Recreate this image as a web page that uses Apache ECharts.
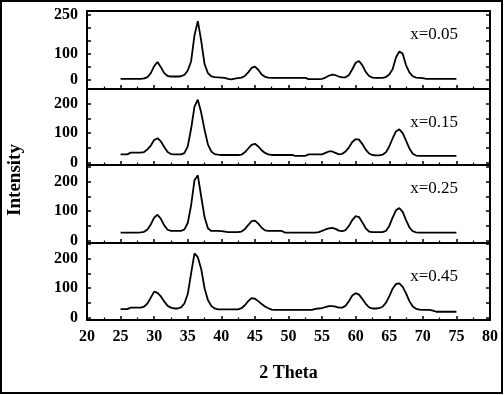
<!DOCTYPE html>
<html><head><meta charset="utf-8">
<script src="https://cdn.jsdelivr.net/npm/echarts@6/dist/echarts.min.js"></script>
<style>html,body{margin:0;padding:0;background:#fff;}#c{width:504px;height:395px;}</style>
</head><body><div id="c"></div>
<script>
// 2-theta positions (degrees)
const theta = [25,25.5,26,26.5,27,27.5,28,28.5,29,29.5,
30,30.5,31,31.5,32,32.5,33,33.5,34,34.5,
35,35.5,36,36.5,37,37.5,38,38.5,39,39.5,
40,40.5,41,41.5,42,42.5,43,43.5,44,44.5,
45,45.5,46,46.5,47,47.5,48,48.5,49,49.5,
50,50.5,51,51.5,52,52.5,53,53.5,54,54.5,
55,55.5,56,56.5,57,57.5,58,58.5,59,59.5,
60,60.5,61,61.5,62,62.5,63,63.5,64,64.5,
65,65.5,66,66.5,67,67.5,68,68.5,69,69.5,
70,70.5,71,71.5,72,72.5,73,73.5,74,74.5,75];
// Intensity, x=0.05
const i005 = [3,3,3,3,3,3,3,5,10,25,
52,68,48,25,14,12,12,12,13,18,
35,70,170,225,150,60,25,13,10,9,
8,7,3,1,4,6,8,14,28,45,
50,38,20,11,8,7,7,7,7,7,
7,7,7,7,7,7,2,2,2,2,
3,8,15,19,17,12,9,9,18,40,
65,72,55,30,14,8,7,7,7,10,
20,40,85,108,100,55,28,13,8,7,
6,3,3,3,3,3,3,3,3,3,3];
// Intensity, x=0.15
const i015 = [28,28,28,34,34,34,34,36,45,58,
77,83,72,53,36,29,28,28,28,32,
55,115,190,214,170,112,62,38,29,27,
26,26,26,26,26,26,27,35,48,60,
64,55,42,33,28,26,26,26,26,26,
26,26,23,23,23,23,28,28,28,28,
28,33,38,38,33,28,30,38,52,70,
80,78,63,44,31,26,25,25,27,35,
55,82,106,113,100,75,48,30,24,23,
23,23,23,23,23,23,23,23,23,23,23];
// Intensity, x=0.25
const i025 = [27,27,27,27,27,27,28,30,38,55,
78,88,74,52,37,33,33,33,33,38,
60,120,205,222,150,80,42,33,33,33,
32,31,29,29,29,29,31,39,53,66,
68,58,44,35,33,33,33,33,33,27,
27,27,27,27,27,27,27,27,27,29,
33,38,42,43,40,34,32,36,50,70,
83,80,62,42,31,29,29,29,29,33,
50,78,103,111,98,70,45,32,28,27,
27,27,27,27,27,27,27,27,27,27,27];
// Intensity, x=0.45
const i045 = [29,29,29,34,34,34,34,37,48,68,
88,84,72,55,40,34,31,31,35,48,
80,150,218,205,165,100,60,40,31,28,
28,28,28,28,28,28,32,42,56,66,
64,56,46,38,32,27,26,26,26,26,
26,26,26,26,26,26,26,26,30,31,
32,36,39,39,37,34,34,40,56,75,
83,78,63,47,35,31,31,32,37,50,
72,98,114,116,104,82,56,38,30,27,
26,26,26,24,20,20,20,20,20,20,20];

const seriesData = [i005, i015, i025, i045];
const panelLabels = ['x=0.05', 'x=0.15', 'x=0.25', 'x=0.45'];
const yLabelValues = [[0,100,250],[0,100,200],[0,100,200],[0,100,200]];
const yTickValues = [[0,50,100,150,200,250],[0,50,100,150,200,250],[0,50,100,150,200,250],[0,50,100,150,200,250]];
const yMin = [-36,-8,-8,-8];
const yMax = [264,250,257,253];
const xAxisName = '2 Theta';
const yAxisName = 'Intensity';

const gridTops = [11,89,165,243];
const gridHeights = [78,76,78,77];
const labelTops = [21,109,175,263];
const FONT = '"Liberation Serif", "Times New Roman", serif';

const grids = [], xAxes = [], yAxes = [], series = [], titles = [];
for (let i = 0; i < 4; i++) {
  grids.push({left: 87, right: 14, top: gridTops[i], height: gridHeights[i]});
  const last = i === 3;
  xAxes.push({
    gridIndex: i, type: 'value', min: 20, max: 80, interval: 5, position: 'bottom',
    axisLine: {show: true, onZero: false, lineStyle: {color: '#000', width: 2}},
    axisTick: {show: true, inside: true, length: 4, lineStyle: {color: '#000', width: 1.5}},
    minorTick: {show: true, splitNumber: 2, length: 2.5, lineStyle: {color: '#000', width: 1.2}},
    splitLine: {show: false}, minorSplitLine: {show: false},
    axisLabel: {show: last, color: '#000', fontFamily: FONT, fontWeight: 'bold', fontSize: 16, margin: 9},
    name: last ? xAxisName : '', nameLocation: 'middle', nameGap: 44,
    nameTextStyle: {color: '#000', fontFamily: FONT, fontWeight: 'bold', fontSize: 18}
  });
  const common = {
    gridIndex: i, type: 'value', min: yMin[i], max: yMax[i],
    axisLine: {show: true, onZero: false, lineStyle: {color: '#000', width: 2}},
    axisTick: {show: true, inside: true, length: 4, customValues: yTickValues[i], lineStyle: {color: '#000', width: 1.5}},
    splitLine: {show: false}
  };
  yAxes.push(Object.assign({}, common, {
    position: 'left',
    axisLabel: {show: true, customValues: yLabelValues[i], color: '#000', fontFamily: FONT, fontWeight: 'bold', fontSize: 16, margin: 9}
  }));
  yAxes.push(Object.assign({}, common, {
    position: 'right',
    axisLabel: {show: false}
  }));
  series.push({
    type: 'line', xAxisIndex: i, yAxisIndex: i * 2,
    data: theta.map((t, k) => [t, seriesData[i][k]]),
    symbol: 'none', lineStyle: {color: '#000', width: 1.8}, silent: true
  });
  titles.push({text: panelLabels[i], right: 41, top: labelTops[i],
    textStyle: {color: '#000', fontFamily: FONT, fontWeight: 'normal', fontSize: 17}});
}
// top frame line of the first panel
xAxes.push({
  gridIndex: 0, type: 'value', min: 20, max: 80, position: 'top',
  axisLine: {show: true, onZero: false, lineStyle: {color: '#000', width: 2}},
  axisTick: {show: false}, axisLabel: {show: false}, splitLine: {show: false}
});

const chart = echarts.init(document.getElementById('c'), null, {renderer: 'canvas'});
chart.setOption({
  animation: false,
  backgroundColor: '#fff',
  title: titles,
  grid: grids, xAxis: xAxes, yAxis: yAxes, series: series,
  graphic: [
    {type: 'rect', shape: {x: 1, y: 1, width: 501, height: 392}, style: {fill: 'none', stroke: '#000', lineWidth: 2}, silent: true},
    {type: 'text', x: 15, y: 180, rotation: Math.PI / 2,
     style: {text: yAxisName, fill: '#000', font: 'bold 19px ' + FONT, align: 'center', verticalAlign: 'middle'}}
  ]
});
</script></body></html>
